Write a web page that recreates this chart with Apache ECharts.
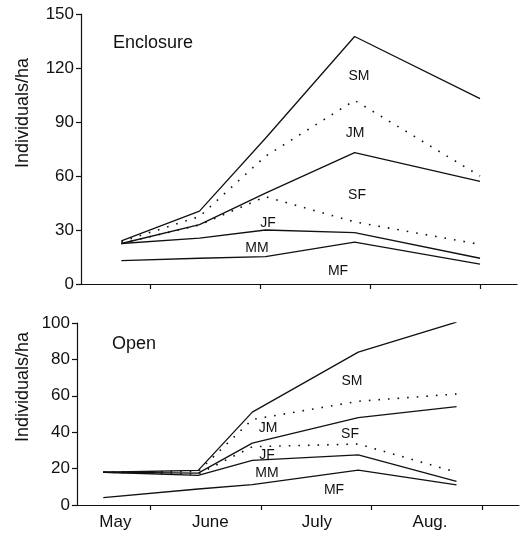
<!DOCTYPE html>
<html>
<head>
<meta charset="utf-8">
<script src="https://cdn.jsdelivr.net/npm/echarts@6/dist/echarts.min.js"></script>
<style>
html, body { margin: 0; padding: 0; background: #fff; }
#chart { width: 526px; height: 536px; }
</style>
</head>
<body>
<div id="chart"></div>
<script>
// classes, stacked from the bottom up
var classes = ['MF', 'MM', 'JF', 'SF', 'JM', 'SM'];
var dottedClasses = ['JF', 'JM'];
var months = ['May', 'June', 'July', 'Aug.'];

// Enclosure: sampling dates (months after 1 May) and individuals/ha per class
var encDates = [0.74, 1.45, 2.05, 2.86, 4.0];
var encMF = [13, 14.3, 15.2, 23.3, 11];
var encMM = [9.5, 11.2, 14.8, 5.2, 3.3];
var encJF = [0, 7.3, 18.5, 6, 7.7];
var encSF = [0, 0.2, 2, 38.5, 35];
var encJM = [1, 4.5, 20.5, 29, 3];
var encSM = [0.5, 3, 10, 35.5, 43];

// Open
var openDates = [0.57, 1.43, 1.92, 2.88, 3.77];
var openMF = [4, 8.8, 11.2, 19.2, 11];
var openMM = [14, 7.5, 13.3, 8.3, 2];
var openJF = [0, 0.7, 7.5, 6, 5];
var openSF = [0, 0.5, 2, 14.5, 36];
var openJM = [0, 1, 13, 9, 7];
var openSM = [0, 0.5, 4, 27, 39.5];

var encTicks = [0, 30, 60, 90, 120, 150];
var openTicks = [0, 20, 40, 60, 80, 100];

var chart = echarts.init(document.getElementById('chart'));
var ink = '#111';
var font = '"Liberation Sans", Arial, Helvetica, sans-serif';

function buildSeries(dates, perClass, gridIdx) {
    var out = [];
    var running = dates.map(function () { return 0; });
    classes.forEach(function (c, k) {
        running = running.map(function (v, i) { return v + perClass[k][i]; });
        out.push({
            name: c,
            type: 'line',
            xAxisIndex: gridIdx,
            yAxisIndex: gridIdx,
            symbol: 'none',
            silent: true,
            data: dates.map(function (d, i) { return [d, +running[i].toFixed(2)]; }),
            lineStyle: {
                color: ink,
                width: dottedClasses.indexOf(c) >= 0 ? 1.6 : 1.3,
                type: dottedClasses.indexOf(c) >= 0 ? [1.6, 8] : 'solid'
            }
        });
    });
    return out;
}

var series = buildSeries(encDates, [encMF, encMM, encJF, encSF, encJM, encSM], 0)
    .concat(buildSeries(openDates, [openMF, openMM, openJF, openSF, openJM, openSM], 1));

var labelPos = [0.68, 1.54, 2.505, 3.53];

function xAxisOf(idx, min, max, labels) {
    return {
        gridIndex: idx,
        type: 'value',
        min: min,
        max: max,
        axisLine: { lineStyle: { color: ink, width: 1.2 } },
        axisTick: { customValues: [1, 2, 3, 4], length: 5, lineStyle: { color: ink, width: 1.2 } },
        axisLabel: {
            show: labels,
            customValues: labelPos,
            margin: 9,
            color: ink,
            fontSize: 17,
            fontFamily: font,
            formatter: function (v) {
                var i = labelPos.indexOf(v);
                return i >= 0 ? months[i] : '';
            }
        },
        splitLine: { show: false }
    };
}

function yAxisOf(idx, ticks) {
    return {
        gridIndex: idx,
        type: 'value',
        min: ticks[0],
        max: ticks[ticks.length - 1],
        interval: ticks[1] - ticks[0],
        axisLine: { show: true, lineStyle: { color: ink, width: 1.2 } },
        axisTick: { show: true, length: 5, lineStyle: { color: ink, width: 1.2 } },
        axisLabel: { color: ink, fontSize: 17, fontFamily: font, margin: 7 },
        splitLine: { show: false }
    };
}

function txt(x, y, s, size, align) {
    return {
        type: 'text', x: x, y: y, silent: true,
        style: {
            text: s, fill: ink, font: size + 'px ' + font,
            align: align || 'center', verticalAlign: 'middle'
        }
    };
}

function yTitle(y) {
    return {
        type: 'text', x: 23, y: y, rotation: Math.PI / 2, silent: true,
        style: { text: 'Individuals/ha', fill: ink, font: '18px ' + font, align: 'center', verticalAlign: 'middle' }
    };
}

var graphics = [
    yTitle(113), yTitle(387),
    txt(113, 43, 'Enclosure', 18, 'left'),
    txt(112, 344, 'Open', 18, 'left'),
    txt(359, 76, 'SM', 14), txt(355, 133, 'JM', 14), txt(357, 195, 'SF', 14),
    txt(268, 223, 'JF', 14), txt(257, 248, 'MM', 14), txt(338, 271, 'MF', 14),
    txt(352, 381, 'SM', 14), txt(268, 428, 'JM', 14), txt(350, 434, 'SF', 14),
    txt(267, 455, 'JF', 14), txt(267, 473, 'MM', 14), txt(334, 490, 'MF', 14)
];

chart.setOption({
    animation: false,
    backgroundColor: '#fff',
    grid: [
        { left: 81, top: 14, width: 436, height: 270 },
        { left: 77, top: 323, width: 442, height: 182 }
    ],
    xAxis: [xAxisOf(0, 0.373, 4.336, false), xAxisOf(1, 0.332, 4.336, true)],
    yAxis: [yAxisOf(0, encTicks), yAxisOf(1, openTicks)],
    series: series,
    graphic: graphics
});
</script>
</body>
</html>
